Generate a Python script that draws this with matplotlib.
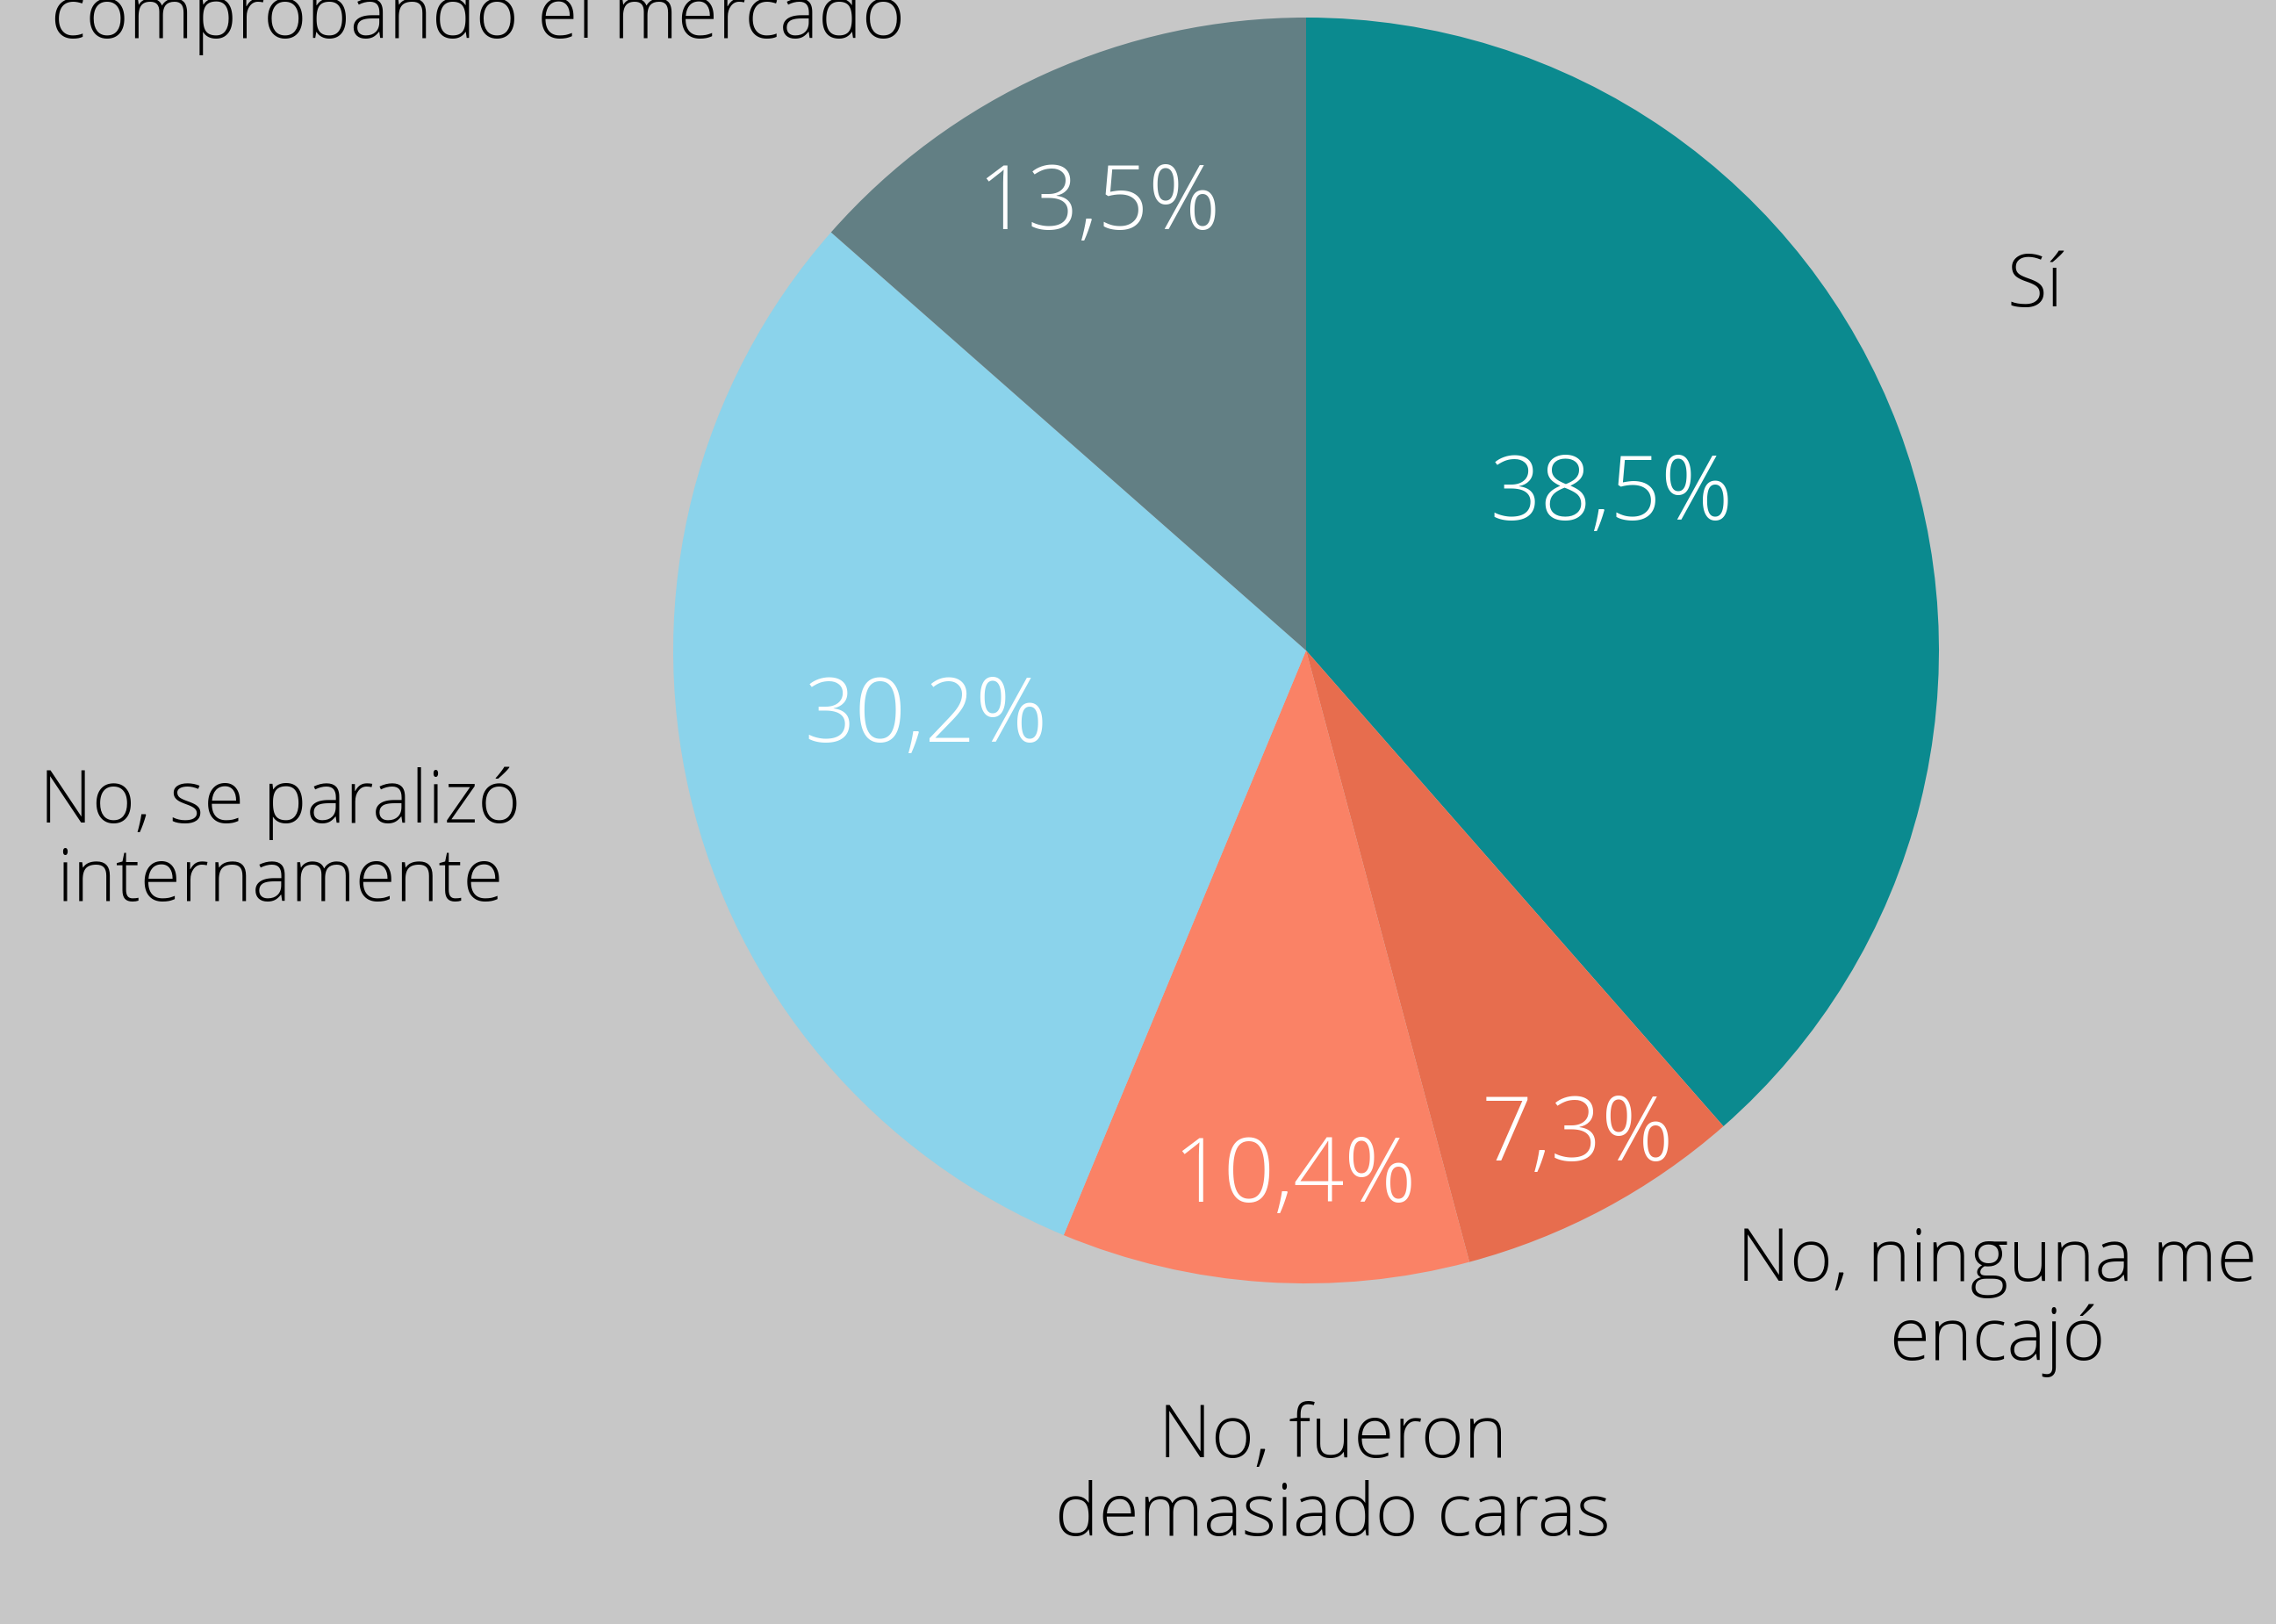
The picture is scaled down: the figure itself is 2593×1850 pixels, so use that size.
import matplotlib.pyplot as plt

labels = ["Sí", "No, ninguna me\nencajó", "No, fueron\ndemasiado caras",
          "No, se paralizó\ninternamente", "No, seguimos\ncomprobando el mercado"]
values = [38.5, 7.3, 10.4, 30.2, 13.5]
pct_text = ["38,5%", "7,3%", "10,4%", "30,2%", "13,5%"]
colors = ["#0B8A8F", "#E76D4E", "#FA8266", "#8BD3EB", "#627F84"]

bg = "#C7C7C7"
W, H = 2593, 1850
fig = plt.figure(figsize=(W / 100, H / 100), dpi=100, facecolor=bg)
ax = fig.add_axes([0, 0, 1, 1])
ax.set_facecolor(bg)

ax.pie(values, colors=colors, startangle=90, counterclock=False, radius=1,
       wedgeprops=dict(linewidth=0))

# pie centre / radius in pixels
cx, cy, r = 1488, 741, 721
ax.set_xlim(-cx / r, (W - cx) / r)
ax.set_ylim(-(H - cy) / r, cy / r)
ax.set_aspect('auto')
ax.axis('off')

# positions (fraction of figure)
pct_pos = [(0.7079, 0.6945), (0.6932, 0.2995), (0.5689, 0.2744),
           (0.4069, 0.5577), (0.4828, 0.8732)]
lab_pos = [(0.8941, 0.8231), (0.8776, 0.1988), (0.5855, 0.0903),
           (0.1231, 0.4812), (0.2098, 1.0125)]

font = ['Open Sans', 'DejaVu Sans']
for t, (x, y) in zip(pct_text, pct_pos):
    fig.text(x, y, t, color='white', fontsize=73, family=font, weight='light',
             ha='center', va='center')
for t, (x, y) in zip(labels, lab_pos):
    fig.text(x, y, t, color='black', fontsize=60, family=font, weight='light',
             ha='center', va='center', multialignment='center', linespacing=1.1)

fig.savefig('out.png', dpi=100, facecolor=bg)
